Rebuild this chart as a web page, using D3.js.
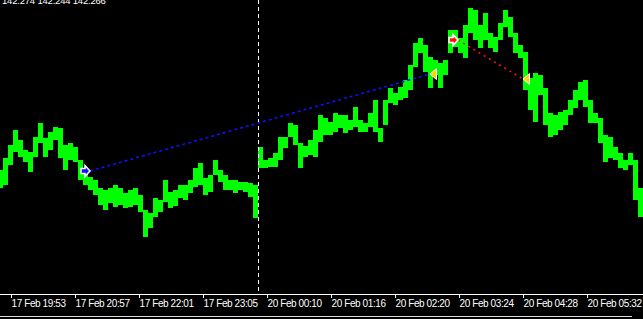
<!DOCTYPE html>
<html>
<head>
<meta charset="utf-8">
<script src="https://cdn.jsdelivr.net/npm/d3@7"></script>
<style>
    html, body { margin: 0; padding: 0; background: #000; overflow: hidden; }
    svg { display: block; }
    text { font-family: "Liberation Sans", Arial, sans-serif; fill: #fff; }
</style>
</head>
<body>
<svg id="chart"></svg>
<script>
// 5-minute aggregated bars (prices)
const barHigh = [
    142.296, 142.308, 142.321, 142.336, 142.326, 142.316, 142.314, 142.329, 142.343, 142.328,
    142.334, 142.339, 142.338, 142.321, 142.323, 142.319, 142.306, 142.296, 142.289, 142.286,
    142.278, 142.276, 142.278, 142.281, 142.278, 142.273, 142.276, 142.278, 142.271, 142.256,
    142.253, 142.268, 142.266, 142.286, 142.274, 142.276, 142.281, 142.281, 142.286, 142.298,
    142.303, 142.288, 142.291, 142.306, 142.296, 142.291, 142.286, 142.286, 142.284, 142.284,
    142.283, 142.281, 142.319, 142.306, 142.308, 142.313, 142.329, 142.329, 142.343, 142.341,
    142.323, 142.320, 142.326, 142.336, 142.351, 142.348, 142.344, 142.353, 142.351, 142.351,
    142.346, 142.359, 142.346, 142.343, 142.353, 142.366, 142.338, 142.366, 142.378, 142.373,
    142.379, 142.386, 142.401, 142.423, 142.428, 142.421, 142.409, 142.406, 142.403, 142.406,
    142.436, 142.436, 142.428, 142.441, 142.458, 142.456, 142.441, 142.453, 142.433, 142.429,
    142.443, 142.456, 142.449, 142.433, 142.421, 142.414, 142.388, 142.393, 142.391, 142.378,
    142.353, 142.351, 142.354, 142.356, 142.366, 142.376, 142.384, 142.386, 142.366, 142.353,
    142.348, 142.331, 142.329, 142.319, 142.313, 142.306, 142.313, 142.306, 142.278
];
const barLow = [
    142.278, 142.281, 142.301, 142.314, 142.309, 142.304, 142.294, 142.309, 142.323, 142.309,
    142.316, 142.326, 142.308, 142.296, 142.306, 142.304, 142.286, 142.281, 142.276, 142.271,
    142.261, 142.256, 142.263, 142.259, 142.261, 142.258, 142.259, 142.261, 142.254, 142.229,
    142.238, 142.249, 142.254, 142.264, 142.258, 142.260, 142.268, 142.266, 142.273, 142.279,
    142.281, 142.271, 142.274, 142.291, 142.284, 142.276, 142.276, 142.273, 142.276, 142.274,
    142.269, 142.248, 142.298, 142.298, 142.299, 142.299, 142.306, 142.318, 142.329, 142.321,
    142.298, 142.309, 142.311, 142.309, 142.324, 142.331, 142.331, 142.334, 142.338, 142.333,
    142.336, 142.339, 142.334, 142.334, 142.339, 142.334, 142.324, 142.341, 142.363, 142.361,
    142.366, 142.368, 142.376, 142.399, 142.413, 142.394, 142.378, 142.391, 142.378, 142.391,
    142.413, 142.419, 142.413, 142.408, 142.433, 142.426, 142.418, 142.426, 142.418, 142.414,
    142.426, 142.439, 142.429, 142.413, 142.408, 142.376, 142.356, 142.344, 142.371, 142.341,
    142.329, 142.331, 142.336, 142.341, 142.351, 142.358, 142.366, 142.359, 142.343, 142.343,
    142.323, 142.304, 142.308, 142.306, 142.298, 142.296, 142.301, 142.266, 142.249
];
const barMinutes = 5;
const firstBarMinute = -2;

// time axis
const tickMinutes = [11, 75, 139, 203, 267, 331, 395, 459, 523, 587];
const tickLabels = [
    "17 Feb 19:53", "17 Feb 20:57", "17 Feb 22:01", "17 Feb 23:05", "20 Feb 00:10",
    "20 Feb 01:16", "20 Feb 02:20", "20 Feb 03:24", "20 Feb 04:28", "20 Feb 05:32"
];
const separatorMinute = 258;

// trades: open / close points
const tradeOpenMinute = [90, 458];
const tradeOpenPrice = [142.295, 142.426];
const tradeCloseMinute = [430, 523];
const tradeClosePrice = [142.392, 142.387];
const tradeColor = ["#1010ff", "#ff1010"];

const headerText = "142.274 142.244 142.266";

const width = 643;
const height = 319;
const axisY = 294;

const svg = d3
    .select("#chart")
    .attr("width", width)
    .attr("height", height)
    .attr("viewBox", `0 0 ${width} ${height}`);

const x = d3.scaleLinear().domain([0, width]).range([0, width]);
const y = d3.scaleLinear().domain([142.172, 142.466]).range([axisY, 0]);

// bars
svg.append("g")
    .attr("shape-rendering", "crispEdges")
    .selectAll("rect")
    .data(barHigh)
    .enter()
    .append("rect")
    .attr("x", (d, i) => x(firstBarMinute + i * barMinutes))
    .attr("width", x(barMinutes) - x(0))
    .attr("y", (d) => y(d))
    .attr("height", (d, i) => Math.max(1, y(barLow[i]) - y(d)))
    .attr("fill", "#00ff00");

// period separator
svg.append("line")
    .attr("x1", Math.floor(x(separatorMinute)) + 0.5)
    .attr("x2", Math.floor(x(separatorMinute)) + 0.5)
    .attr("y1", 0)
    .attr("y2", axisY)
    .attr("stroke", "#fff")
    .attr("stroke-dasharray", "4,3");

// trade lines
const trades = d3.range(tradeOpenMinute.length);
svg.append("g")
    .selectAll("line")
    .data(trades)
    .enter()
    .append("line")
    .attr("x1", (i) => x(tradeOpenMinute[i]))
    .attr("y1", (i) => y(tradeOpenPrice[i]))
    .attr("x2", (i) => x(tradeCloseMinute[i]))
    .attr("y2", (i) => y(tradeClosePrice[i]))
    .attr("stroke", (i) => tradeColor[i])
    .attr("stroke-width", 1.6)
    .attr("stroke-dasharray", (i) => (i === 0 ? "3,3" : "2,4"));

// open arrows (point right, tip on the price)
svg.append("g")
    .selectAll("path")
    .data(trades)
    .enter()
    .append("path")
    .attr("transform", (i) => `translate(${x(tradeOpenMinute[i])},${y(tradeOpenPrice[i])})`)
    .attr("d", "M0,0 L-5,-5.5 L-5,-2.5 L-9,-2.5 L-9,2.5 L-5,2.5 L-5,5.5 Z")
    .attr("fill", (i) => tradeColor[i])
    .attr("stroke", "#fff")
    .attr("stroke-width", 1.5);

// close arrows (yellow triangles pointing left)
svg.append("g")
    .selectAll("path")
    .data(trades)
    .enter()
    .append("path")
    .attr("transform", (i) => `translate(${x(tradeCloseMinute[i])},${y(tradeClosePrice[i])})`)
    .attr("d", "M0,0 L6.5,-5.5 L6.5,5.5 Z")
    .attr("fill", "#ffd400")
    .attr("stroke", "#fff")
    .attr("stroke-width", 1);

// bottom axis
svg.append("line")
    .attr("x1", 0)
    .attr("x2", width)
    .attr("y1", axisY + 0.5)
    .attr("y2", axisY + 0.5)
    .attr("stroke", "#fff");

svg.append("line")
    .attr("x1", 0)
    .attr("x2", 632)
    .attr("y1", 316.5)
    .attr("y2", 316.5)
    .attr("stroke", "#ddd");

const ticks = svg.append("g")
    .selectAll("g")
    .data(tickMinutes)
    .enter()
    .append("g")
    .attr("transform", (d) => `translate(${Math.floor(x(d)) + 0.5},0)`);

ticks.append("line")
    .attr("y1", axisY)
    .attr("y2", axisY + 4)
    .attr("stroke", "#fff");

ticks.append("text")
    .attr("x", 0)
    .attr("y", 307)
    .attr("font-size", 10)
    .attr("letter-spacing", -0.4)
    .text((d, i) => tickLabels[i]);

// header values, clipped at the top edge as in the terminal
svg.append("text")
    .attr("x", 2)
    .attr("y", 4)
    .attr("font-size", 9.5)
    .attr("letter-spacing", -0.2)
    .text(headerText);
</script>
</body>
</html>
